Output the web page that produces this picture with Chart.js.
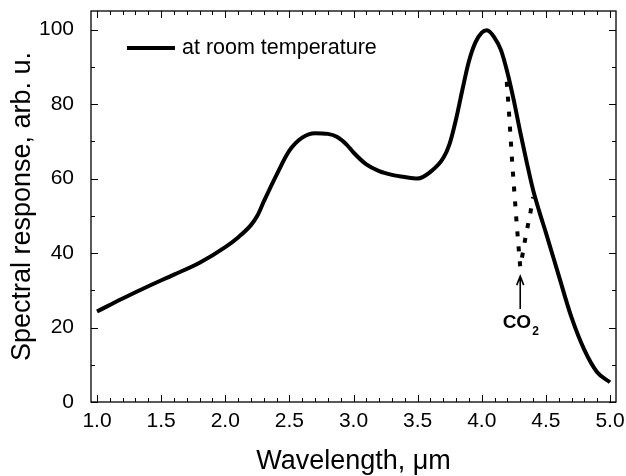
<!DOCTYPE html>
<html>
<head>
<meta charset="utf-8">
<script src="https://cdn.jsdelivr.net/npm/chart.js@4.4.1/dist/chart.umd.min.js"></script>
<style>
    html, body { margin: 0; padding: 0; background: #ffffff; }
    #wrap { width: 626px; height: 476px; }
</style>
</head>
<body>
<div id="wrap"><canvas id="chart" width="626" height="476"></canvas></div>
<script>
    // spectral response curve
    const wavelength = [1.0, 1.2, 1.4, 1.6, 1.8, 2.0, 2.1, 2.2, 2.25, 2.3, 2.4, 2.5, 2.6, 2.7, 2.8, 2.87, 2.95, 3.0,
        3.1, 3.2, 3.3, 3.4, 3.5, 3.6, 3.7, 3.75, 3.8, 3.85, 3.9, 3.95, 4.0, 4.04, 4.1, 4.15, 4.2, 4.25, 4.3, 4.35,
        4.4, 4.45, 4.5, 4.6, 4.7, 4.8, 4.9, 5.0];
    const response = [24.3, 27.8, 31.1, 34.2, 37.4, 41.6, 44.2, 47.5, 50.0, 53.8, 61.0, 67.5, 71.0, 72.2, 72.0, 71.2,
        69.0, 67.0, 63.8, 62.0, 61.0, 60.4, 60.0, 61.8, 65.5, 69.4, 76.0, 84.0, 91.5, 96.5, 99.2, 99.8, 97.8, 94.5,
        88.5, 81.0, 72.5, 64.5, 57.0, 51.0, 45.5, 34.0, 22.7, 14.0, 8.0, 5.3];

    // dotted CO2 absorption dip
    const co2Wavelength = [4.195, 4.21, 4.225, 4.24, 4.255, 4.27, 4.285, 4.30, 4.32, 4.34, 4.36, 4.38, 4.40];
    const co2Response = [86, 79, 71, 63, 56, 49, 42.5, 36.3, 40, 44, 47.5, 51, 55];

    const xTicks = [1.0, 1.5, 2.0, 2.5, 3.0, 3.5, 4.0, 4.5, 5.0];
    const yTicks = [0, 20, 40, 60, 80, 100];
    const xMinorStep = 0.1;
    const yMinorStep = 10;

    const seriesLabel = "at room temperature";
    const xTitle = "Wavelength, \u03bcm";
    const yTitle = "Spectral response, arb. u.";

    // arrow pointing at the dip, in data units
    const arrowX = 4.3;
    const arrowBottom = 25;
    const arrowTop = 33.8;
    const co2TextY = 21.7;

    const fontFamily = "'Liberation Sans', Arial, Helvetica, sans-serif";

    const toPoints = (xs, ys) => xs.map((x, i) => ({ x: x, y: ys[i] }));

    const noPadding = (scale) => {
        scale.paddingTop = 0;
        scale.paddingBottom = 0;
        scale.paddingLeft = 0;
        scale.paddingRight = 0;
    };

    const framePlugin = {
        id: "frameAndTicks",
        beforeDatasetsDraw(chart) {
            const { ctx, chartArea: a, scales } = chart;
            const xs = scales.x, ys = scales.y;
            ctx.save();
            ctx.strokeStyle = "#000";
            ctx.lineWidth = 1;
            ctx.beginPath();
            // x ticks, inward at bottom and top
            for (let v = xTicks[0]; v <= xTicks[xTicks.length - 1] + 1e-6; v += xMinorStep) {
                const major = xTicks.some((t) => Math.abs(t - v) < 1e-6);
                const len = major ? 7 : 4;
                const px = Math.round(xs.getPixelForValue(v)) + 0.5;
                ctx.moveTo(px, a.bottom);
                ctx.lineTo(px, a.bottom - len);
                ctx.moveTo(px, a.top);
                ctx.lineTo(px, a.top + len);
            }
            // y ticks, inward at left and right
            for (let v = yTicks[0]; v <= ys.max + 1e-6; v += yMinorStep) {
                const major = yTicks.includes(v);
                const len = major ? 7 : 4;
                const py = Math.round(ys.getPixelForValue(v)) + 0.5;
                ctx.moveTo(a.left, py);
                ctx.lineTo(a.left + len, py);
                ctx.moveTo(a.right, py);
                ctx.lineTo(a.right - len, py);
            }
            ctx.stroke();
            ctx.lineWidth = 1.3;
            ctx.strokeRect(a.left, a.top, a.right - a.left, a.bottom - a.top);
            ctx.restore();
        },
        afterDatasetsDraw(chart) {
            const { ctx, chartArea: a, scales } = chart;
            const xs = scales.x, ys = scales.y;
            ctx.save();

            // legend inside the plot
            const ly = a.top + 37;
            ctx.strokeStyle = "#000";
            ctx.lineWidth = 4;
            ctx.beginPath();
            ctx.moveTo(a.left + 36, ly);
            ctx.lineTo(a.left + 84, ly);
            ctx.stroke();
            ctx.fillStyle = "#000";
            ctx.font = "21.5px " + fontFamily;
            ctx.textBaseline = "middle";
            ctx.textAlign = "left";
            ctx.fillText(chart.data.datasets[0].label, a.left + 91, ly);

            // CO2 arrow
            const ax = xs.getPixelForValue(arrowX);
            const yb = ys.getPixelForValue(arrowBottom);
            const yt = ys.getPixelForValue(arrowTop);
            ctx.lineWidth = 1.6;
            ctx.beginPath();
            ctx.moveTo(ax, yb);
            ctx.lineTo(ax, yt + 1);
            ctx.moveTo(ax - 3.5, yt + 9);
            ctx.lineTo(ax, yt);
            ctx.lineTo(ax + 3.5, yt + 9);
            ctx.stroke();

            // CO2 label with subscript
            const ty = ys.getPixelForValue(co2TextY);
            ctx.font = "bold 19px " + fontFamily;
            ctx.textBaseline = "alphabetic";
            const coW = ctx.measureText("CO").width;
            ctx.font = "bold 12px " + fontFamily;
            const subW = ctx.measureText("2").width;
            const startX = ax - (coW + subW) / 2;
            ctx.font = "bold 19px " + fontFamily;
            ctx.fillText("CO", startX, ty + 7);
            ctx.font = "bold 12px " + fontFamily;
            ctx.fillText("2", startX + coW + 1, ty + 14);
            ctx.restore();
        },
    };

    const ctx = document.getElementById("chart").getContext("2d");
    window.chart = new Chart(ctx, {
        type: "scatter",
        data: {
            datasets: [
                {
                    label: seriesLabel,
                    data: toPoints(wavelength, response),
                    showLine: true,
                    borderColor: "#000",
                    borderWidth: 4,
                    pointRadius: 0,
                    cubicInterpolationMode: "monotone",
                },
                {
                    label: "CO2",
                    data: toPoints(co2Wavelength, co2Response),
                    showLine: true,
                    borderColor: "#000",
                    borderWidth: 4,
                    borderDash: [5, 10],
                    pointRadius: 0,
                    tension: 0,
                },
            ],
        },
        options: {
            responsive: false,
            devicePixelRatio: 1,
            animation: false,
            events: [],
            layout: { padding: { top: 11, right: 10, left: 0, bottom: 0 } },
            plugins: {
                legend: { display: false },
                tooltip: { enabled: false },
            },
            scales: {
                x: {
                    type: "linear",
                    min: 0.9532,
                    max: 5.0468,
                    afterBuildTicks: (scale) => {
                        scale.ticks = xTicks.map((v) => ({ value: v }));
                    },
                    afterFit: (scale) => {
                        scale.height = 74;
                        noPadding(scale);
                    },
                    grid: { display: false },
                    border: { display: false },
                    ticks: {
                        color: "#000",
                        font: { family: fontFamily, size: 21 },
                        padding: -1,
                        maxRotation: 0,
                        autoSkip: false,
                        callback: (v) => Number(v).toFixed(1),
                    },
                    title: {
                        display: true,
                        text: xTitle,
                        color: "#000",
                        font: { family: fontFamily, size: 27 },
                        padding: { top: 0, bottom: -2 },
                    },
                },
                y: {
                    type: "linear",
                    min: 0,
                    max: 105,
                    afterBuildTicks: (scale) => {
                        scale.ticks = yTicks.map((v) => ({ value: v }));
                    },
                    afterFit: (scale) => {
                        scale.width = 91;
                        noPadding(scale);
                    },
                    grid: { display: false },
                    border: { display: false },
                    ticks: {
                        color: "#000",
                        font: { family: fontFamily, size: 21 },
                        padding: 9,
                        autoSkip: false,
                    },
                    title: {
                        display: true,
                        text: yTitle,
                        color: "#000",
                        font: { family: fontFamily, size: 27 },
                        padding: { top: 6, bottom: 0 },
                    },
                },
            },
        },
        plugins: [framePlugin],
    });
</script>
</body>
</html>
